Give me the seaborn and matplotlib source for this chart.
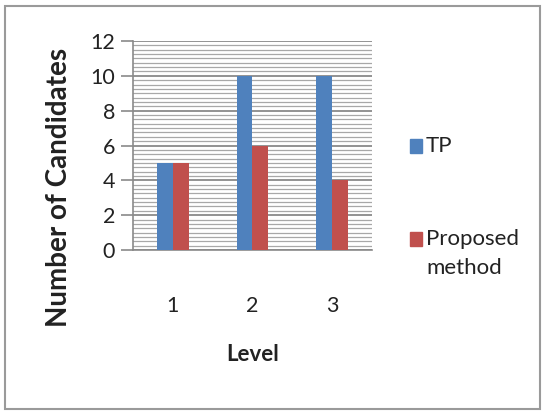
import matplotlib
matplotlib.use("Agg")
import matplotlib.pyplot as plt
from matplotlib.ticker import MultipleLocator
from matplotlib.patches import Rectangle
import seaborn as sns
import pandas as pd

levels = ["1", "2", "3"]
tp = [5, 10, 10]
proposed = [5, 6, 4]
series_names = ["TP", "Proposed method"]
colors = ["#4F81BD", "#C0504D"]

df = pd.DataFrame({
    "Level": levels * 2,
    "Value": tp + proposed,
    "Series": [series_names[0]] * 3 + [series_names[1]] * 3,
})

sns.set_theme(style="white")
plt.rcParams["font.family"] = ["Lato", "DejaVu Sans"]

fig = plt.figure(figsize=(5.45, 4.13), dpi=100)
ax = fig.add_axes([133/545, 1-250/413, (372-133)/545, (250-41)/413])

sns.barplot(data=df, x="Level", y="Value", hue="Series", palette=colors,
            width=0.4, ax=ax, saturation=1, legend=False, linewidth=0,
            zorder=3)

ax.set_xlim(-0.5, 2.5)
ax.set_ylim(0, 12)
ax.yaxis.set_major_locator(MultipleLocator(2))
ax.yaxis.set_minor_locator(MultipleLocator(0.25))
ax.grid(which="major", axis="y", color="#8a8a8a", linewidth=1.3, zorder=0)
ax.grid(which="minor", axis="y", color="#a8a8a8", linewidth=0.9, zorder=0)
ax.set_axisbelow(True)

for s in ["top", "right"]:
    ax.spines[s].set_visible(False)
ax.spines["left"].set_color("#8a8a8a")
ax.spines["bottom"].set_color("#8a8a8a")
ax.spines["left"].set_linewidth(1.2)
ax.spines["bottom"].set_linewidth(1.2)

ax.tick_params(axis="y", which="major", left=True, length=9, width=1.2,
               color="#8a8a8a", labelsize=15.5, pad=4, labelcolor="#222222")
ax.tick_params(axis="y", which="minor", left=False)
ax.tick_params(axis="x", bottom=False, labelsize=15.5, pad=27, labelcolor="#222222")

ax.set_xlabel("Level", fontsize=16, fontweight="bold", color="#222222", va="top")
ax.xaxis.set_label_coords(0.5, -0.45)
ax.set_ylabel("Number of Candidates", fontsize=20, fontweight="bold",
              color="#222222")
ax.yaxis.set_label_coords(-0.255, 0.30)

# legend
fig.patches.append(Rectangle((410/545, 1-153/413), 12/545, 14/413,
                             transform=fig.transFigure, color=colors[0]))
fig.text(426/545, 1-146/413, "TP", fontsize=16, va="center", color="#222222")
fig.patches.append(Rectangle((410/545, 1-246/413), 12/545, 14/413,
                             transform=fig.transFigure, color=colors[1]))
fig.text(426/545, 1-239/413, "Proposed", fontsize=16, va="center", color="#222222")
fig.text(426/545, 1-268/413, "method", fontsize=16, va="center", color="#222222")

fig.patches.append(Rectangle((5/545, 4/413), 535/545, 403/413,
                             transform=fig.transFigure, fill=False,
                             edgecolor="#9a9a9a", linewidth=1.5))

fig.savefig("out.png", dpi=100)
